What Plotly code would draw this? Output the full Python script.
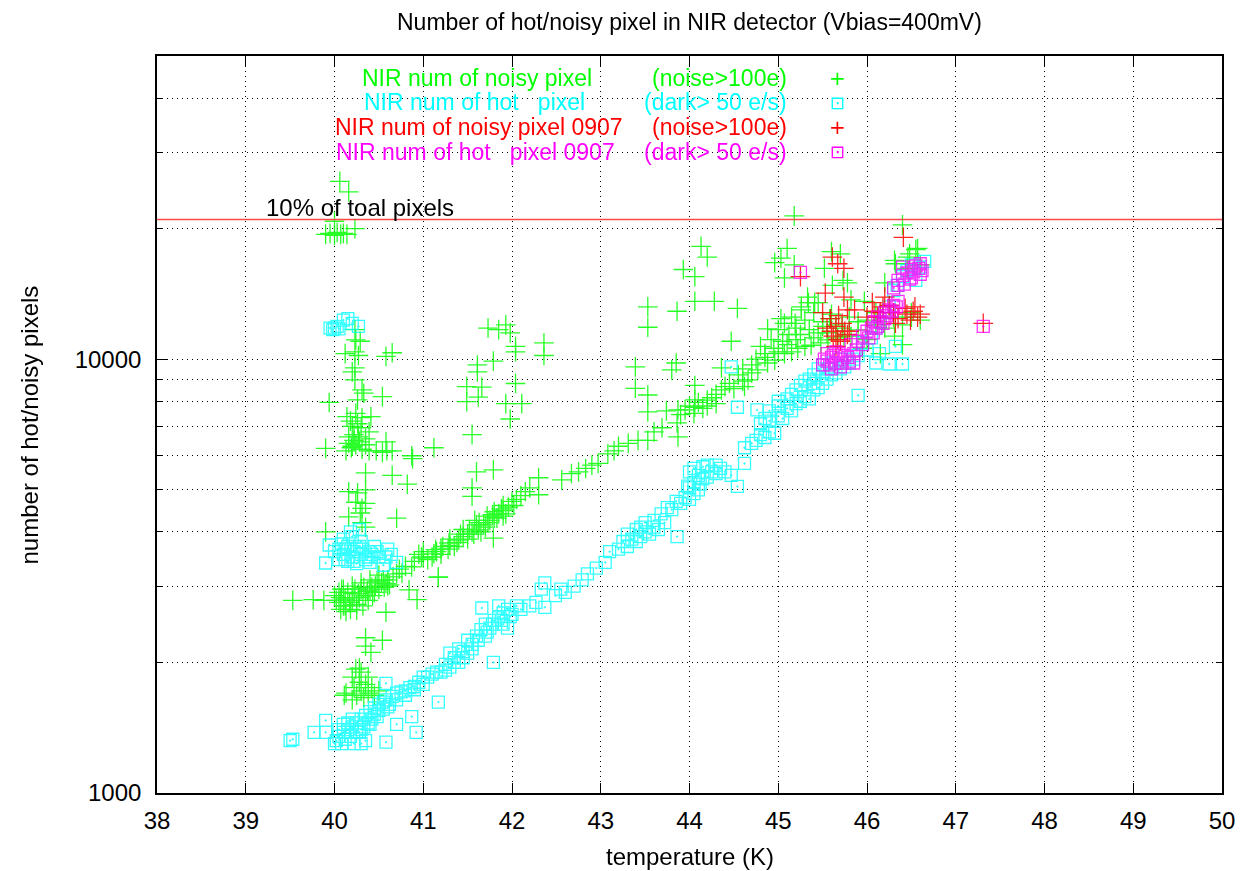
import plotly.graph_objects as go

# ---------------- data ----------------
noisy_T = [
    40.06, 40.16, 40.0, 39.9, 39.95, 40.0, 40.03, 40.07, 40.1, 40.14, 40.23,
    40.23, 40.24, 40.29, 40.12, 40.23, 40.27, 40.58, 40.65, 40.2, 40.23, 40.23, 40.31, 40.33, 40.54,
    39.94, 40.26, 40.14, 40.24, 40.31, 40.41, 40.2, 40.16, 40.27, 40.39,
    40.13, 40.19, 40.24, 40.31, 40.39, 40.47, 40.54, 40.59, 40.65, 40.16, 40.22, 40.28, 40.2, 40.35,
    40.58, 40.88, 39.9, 40.35, 40.65, 40.82, 40.16, 40.26, 40.35, 40.24, 40.35, 40.31, 40.16, 40.29,
    40.7, 40.31, 39.9, 40.35,
    40.22, 40.26, 40.3, 40.18, 40.35,
    41.55, 41.12, 40.87, 41.6, 41.79, 41.55, 41.55, 42.3, 42.3,
    40.0, 40.05, 40.08, 40.1, 40.12, 40.15, 40.18, 40.2, 40.22, 40.25, 40.28, 40.3, 40.32, 40.35,
    40.38, 40.4, 40.43, 40.46, 40.5, 40.53, 40.56, 40.6, 40.62, 40.66, 40.13, 40.25, 40.05, 40.2,
    40.3, 40.4, 40.5,
    40.02, 40.07, 40.1, 40.17, 40.23, 40.27, 40.33, 40.37, 40.42, 40.45, 40.48, 40.55, 40.6, 40.7,
    40.12, 40.07,
    39.53, 39.76, 39.88,
    40.58, 40.76, 40.87, 40.98, 41.14, 41.29, 40.84, 40.93, 41.17, 40.58,
    40.35, 40.41, 40.54, 40.35,
    40.13, 40.2, 40.22, 40.25, 40.28, 40.3, 40.33, 40.35, 40.38, 40.42, 40.45, 40.24, 40.3, 40.38,
    40.2, 40.5, 40.28, 40.11,
    40.73, 40.8, 40.9, 41.0, 41.1, 41.15, 41.2, 41.3, 41.4, 41.45, 41.5, 41.55, 41.62, 41.68, 41.75,
    41.8, 41.85, 41.9, 41.96, 42.05, 42.15, 42.56, 42.67, 42.75, 42.83, 42.9, 42.97, 43.08, 43.15,
    43.2, 43.31, 43.42, 43.53, 43.6, 43.69,
    41.35, 41.5, 41.6, 41.7, 41.72, 41.9, 41.2, 41.65, 41.45, 41.3, 41.58, 41.8, 41.9, 42.0, 41.0,
    40.95, 41.17, 41.79,
    41.05, 41.12, 41.22, 41.28, 41.38, 41.42, 41.52, 41.57, 41.63, 41.73, 41.78, 41.83, 41.88, 41.93,
    42.02, 42.1, 42.2,
    43.87, 43.95, 44.0, 44.06, 44.1, 44.15, 44.2, 44.25, 44.3, 44.36, 44.4, 44.5, 44.62, 44.66,
    44.77, 44.88, 44.96, 45.07, 45.15, 45.22, 45.3, 45.37, 45.48, 45.56, 45.67, 45.74, 45.82, 45.9,
    43.9, 44.05, 44.2, 44.3,
    44.45, 44.55, 44.6, 44.7, 44.75, 44.85, 45.0, 45.1, 45.2, 45.25, 45.35, 45.45, 45.5, 45.58,
    45.4, 44.7, 44.6,
    44.8, 44.92, 45.0, 45.07, 45.15, 45.26, 45.34, 44.85, 44.95, 45.05, 45.12, 45.2, 45.3, 45.4,
    45.45, 45.5, 45.55, 45.6, 45.65, 45.72, 45.8, 45.9, 46.0, 46.1, 46.2, 46.3, 46.4, 46.5,
    44.13, 44.2, 43.93, 44.06, 44.06, 44.28, 44.54, 43.53, 43.86, 43.53, 44.47,
    45.1, 45.03, 45.18, 44.96, 45.07, 45.18,
    45.6, 45.7, 45.52, 45.73, 45.61, 45.33, 45.41, 45.26, 44.88, 45.03, 45.19,
    43.39, 43.39, 43.53, 43.53, 43.74, 43.85, 43.8, 43.87, 43.86, 44.06, 44.06, 44.36,
    41.73, 41.85, 41.93, 41.98, 42.04, 42.04, 42.36, 42.36, 41.61, 41.61, 41.79, 41.49, 41.66,
    41.62, 41.49, 41.93, 42.11, 42.04, 41.98,
    46.4, 46.55, 46.48, 46.32, 45.82, 45.97, 46.31, 46.4, 46.57, 46.46, 46.31, 45.78,
    46.2, 46.45, 46.6, 46.1, 46.25, 46.5, 46.6, 46.0, 45.95, 46.15,
]
noisy_N = [
    25700, 24300, 20800, 19400, 19500, 19300, 19600, 19400, 19500, 19400, 20000,
    11700, 11080, 11000, 10300, 10400, 10200, 10150, 10350, 9350, 9550, 8960, 8500, 8350, 8200,
    7950, 8060, 7370, 7500, 7330, 7370, 7000, 6620, 6620, 6800,
    6150, 6250, 6350, 6200, 6150, 6150, 6100, 6150, 6150, 6400, 6500, 6450, 6300, 6350,
    6450, 5900, 6230, 5470, 5400, 5150, 4950, 4920, 5000, 4680, 4650, 4530, 4330, 4420,
    4300, 4200, 4000, 4100,
    6700, 7100, 6950, 7200, 6550,
    6700, 6250, 5990, 5500, 5560, 5050, 4830, 5330, 4870,
    2850, 2750, 2950, 2700, 2800, 2900, 2650, 2780, 2880, 2720, 2820, 2950, 2700, 2850,
    2780, 2920, 2850, 3000, 2950, 3050, 2980, 3100, 3020, 3150, 2620, 2640, 2900, 3000,
    3050, 3100, 3180,
    2780, 2820, 2950, 2750, 2950, 2880, 2980, 2920, 2980, 2900, 3080, 3100, 3000, 3200,
    2700, 2650,
    2780, 2790, 2780,
    3040, 3210, 3320, 3500, 3640, 3770, 2940, 2790, 3150, 2610,
    2280, 2110, 2250, 2180,
    1700, 1850, 1750, 1680, 1800, 1720, 1660, 1780, 1700, 1750, 1680, 1930, 1900, 1850,
    1640, 1720, 1940, 1680,
    3280, 3330, 3420, 3480, 3500, 3600, 3650, 3720, 3830, 3900, 3950, 4000, 4040, 4150, 4250,
    4320, 4400, 4480, 4560, 4750, 4950, 5270, 5450, 5500, 5600, 5700, 5750, 6050, 6150,
    6300, 6400, 6500, 6500, 6800, 6950,
    3700, 3850, 4150, 4100, 4350, 4350, 3550, 4000, 4050, 3850, 4250, 4450, 4600, 4700, 3600,
    3550, 3140, 3870,
    3450, 3560, 3700, 3650, 3780, 3950, 4050, 3950, 4200, 4200, 4380, 4300, 4520, 4400,
    4600, 4850, 5050,
    7640, 7640, 7800, 7750, 7950, 7700, 8050, 8150, 8300, 8500, 8650, 8550, 8650, 8960,
    9450, 9800, 9950, 10300, 10400, 10600, 10700, 10770, 10900, 11080, 11200, 11300, 11300, 11680,
    7450, 7500, 7800, 7900,
    8800, 9200, 9500, 9700, 10000, 10100, 10400, 10800, 11100, 11400, 11700, 11500, 11900, 12400,
    11200, 9300, 8900,
    10700, 11100, 11700, 12100, 12500, 13000, 13500, 10300, 10600, 11000, 11400, 11800, 12300, 12800,
    13500, 12200, 11500, 12700, 12000, 11800, 12500, 12200, 12300, 12000, 11800, 12500, 12000, 12500,
    18200, 17200, 16100, 15500, 13600, 13600, 13100, 13200, 12900, 11850, 11000,
    18000, 17100, 16500, 16700, 15400, 21400,
    17700, 17500, 16200, 15200, 14800, 13900, 13500, 13200, 11750, 12400, 12100,
    9600, 8570, 8270, 7560, 7600, 9800, 9450, 6620, 7130, 8700, 8060, 9550,
    11800, 11700, 12000, 11500, 10700, 10400, 10900, 10200, 9700, 9350, 9900, 8650, 8620,
    8180, 7980, 7900, 7900, 8790, 7280,
    20400, 17900, 17500, 16600, 13700, 13600, 11300, 10800, 18000, 17200, 16900, 15000,
    15000, 16200, 16500, 12800, 13300, 12800, 12300, 11100, 10600, 10300,
]

hot_T = [
    39.95, 40.0, 40.05, 40.1, 40.15, 40.2, 40.27, 39.98, 40.03,
    39.94, 39.9, 40.05, 40.1, 40.15, 40.2, 40.25, 40.3, 40.35, 40.1, 40.2, 40.3, 40.4, 40.45, 40.5,
    40.58, 40.64, 40.7, 40.05, 40.15, 40.25, 40.4, 40.55, 40.18, 40.28, 40.6,
    40.0, 40.08, 40.12, 40.22, 40.28, 40.32, 40.38, 40.42, 40.48, 40.12, 40.22,
    39.53, 39.5, 39.77, 39.9, 39.9, 40.0, 40.02, 40.05, 40.08, 40.1, 40.12, 40.15, 40.18, 40.2,
    40.22, 40.25, 40.28, 40.3, 40.33, 40.35, 40.38, 40.4, 40.42, 40.45, 40.48, 40.5, 40.55, 40.58,
    40.62, 40.65, 40.7, 40.75, 40.8, 40.85, 40.9, 40.95, 41.0, 41.05, 40.58, 41.17, 40.92, 40.87,
    40.7, 40.58, 40.3, 40.15, 40.35,
    40.05, 40.1, 40.2, 40.25, 40.3, 40.4, 40.45, 40.5, 40.55, 40.6, 40.7, 40.8, 40.9, 41.0,
    41.15, 41.25, 41.35, 41.45, 41.55, 41.62, 41.72, 41.78, 41.88, 41.98, 42.1, 42.2,
    41.1, 41.2, 41.25, 41.3, 41.35, 41.4, 41.45, 41.5, 41.55, 41.6, 41.65, 41.7, 41.75, 41.8,
    41.85, 41.9, 41.95, 42.0, 41.79, 41.66, 42.27, 42.33, 42.37, 42.37, 41.5, 41.7, 41.9, 42.05,
    41.4, 41.3, 41.85, 41.95,
    42.49, 42.55, 42.6, 42.7, 42.79, 42.85, 42.95, 43.05, 43.1, 43.2, 43.25, 43.3, 43.35, 43.4,
    43.45, 43.5, 43.55, 43.6, 43.65, 43.72, 43.5, 43.4, 43.86, 43.3, 43.45, 43.6,
    43.68, 43.75, 43.8, 43.85, 43.9, 43.95, 44.0, 44.05, 44.1, 44.0, 44.05, 44.1, 44.15, 44.2,
    44.25, 44.3, 44.35, 44.4, 44.47, 44.62, 44.54, 44.15, 44.3, 44.2, 44.0, 44.05, 43.98, 44.12,
    44.62, 44.7, 44.75, 44.8, 44.85, 44.9, 44.96,
    44.8, 44.9, 45.0, 45.05, 45.1, 45.15, 45.2, 45.25, 45.3, 45.35, 45.4, 45.45, 45.5, 45.55,
    45.6, 45.65, 45.7, 45.75, 45.8, 45.85, 45.9, 45.0, 45.1, 45.2, 45.3, 45.4, 45.45, 45.5,
    45.15, 45.25, 45.35, 45.5, 45.6, 45.7, 45.55, 45.4, 45.0, 44.9, 44.85,
    44.47, 44.54, 44.76, 45.9, 46.1, 46.25, 46.4, 46.32, 46.14, 46.0, 45.95,
    46.34, 46.4, 46.45, 46.5, 46.55, 46.6, 46.65, 46.3, 46.05, 46.1, 46.15, 46.2, 46.25,
]
hot_N = [
    11800, 11800, 11750, 12300, 12400, 12100, 11900, 11700, 11900,
    3730, 3390, 3650, 3550, 3700, 3500, 3650, 3550, 3450, 3850, 3900, 3800, 3600, 3700, 3500,
    3500, 3550, 3400, 3450, 3420, 3380, 3400, 3350, 4000, 4050, 3650,
    3600, 3750, 3650, 3600, 3700, 3650, 3500, 3550, 3600, 3450, 3420,
    1330, 1320, 1380, 1380, 1470, 1300, 1320, 1350, 1300, 1380, 1330, 1400, 1350, 1420,
    1300, 1450, 1380, 1480, 1420, 1510, 1450, 1540, 1480, 1570, 1500, 1600, 1560, 1640,
    1600, 1670, 1640, 1710, 1680, 1750, 1730, 1800, 1780, 1850, 1790, 1620, 1380, 1500,
    1440, 1310, 1300, 1450, 1320,
    1400, 1440, 1480, 1380, 1400, 1440, 1520, 1550, 1620, 1580, 1700, 1720, 1760, 1850,
    1900, 1920, 2000, 2050, 2150, 2250, 2350, 2450, 2500, 2550, 2650, 2700,
    1880, 1900, 1980, 1950, 2050, 2000, 2120, 2100, 2200, 2300, 2380, 2450, 2400, 2500,
    2550, 2600, 2650, 2580, 2000, 2670, 2750, 2950, 2680, 3050, 2250, 2300, 2450, 2700,
    2150, 2100, 2700, 2400,
    2850, 2950, 2900, 3000, 3100, 3200, 3300, 3400, 3600, 3650, 3800, 3700, 3850, 3800,
    3900, 4000, 3950, 4100, 4050, 4200, 4200, 4050, 3900, 3950, 4100, 4250,
    4400, 4550, 4500, 4700, 4650, 4800, 4750, 4900, 5000, 5050, 5200, 5400, 5300, 5350,
    5500, 5450, 5600, 5500, 5400, 5750, 5090, 5650, 5700, 5700, 5500, 5600, 5100, 5150,
    6250, 6400, 6500, 6700, 6600, 6800, 6750,
    7100, 7200, 7400, 7300, 7700, 7600, 7900, 8000, 8200, 8100, 8500, 8600, 8800, 9000,
    9200, 9300, 9500, 9600, 9800, 10000, 10200, 7800, 8100, 8500, 8900, 9200, 9500, 9700,
    8300, 8700, 9000, 9300, 9800, 10000, 9500, 8800, 8000, 7600, 7300,
    9600, 7750, 7640, 8250, 9800, 9750, 9750, 10700, 10300, 10500, 10900,
    14800, 15500, 16000, 16500, 15200, 16300, 16800, 14400, 11200, 11800, 12200, 12800, 13200,
]

noisy0907_T = [
    46.41, 45.61, 45.67, 45.74, 45.53, 45.74, 45.78, 45.59, 45.67, 45.78, 45.62, 45.7, 45.75,
    46.12, 46.2, 46.06, 45.86, 45.8, 46.32, 46.43, 46.54, 46.57, 46.49, 46.3, 46.25, 46.15,
    46.0, 47.31, 45.25, 45.5, 45.55, 45.65,
    45.6, 45.65, 45.72, 45.68, 46.35, 46.45, 46.52, 46.6, 46.18, 46.08,
]
noisy0907_N = [
    19100, 17200, 16600, 16200, 14200, 13900, 13000, 12400, 11100, 11400, 11300, 11000, 11600,
    12500, 13900, 13500, 13000, 11600, 12100, 13100, 13200, 12500, 12300, 12800, 13300, 12800,
    12500, 12100, 15500, 12800, 11800, 10700,
    11600, 11900, 12100, 12600, 12400, 12700, 12900, 12700, 13200, 12900,
]

hot0907_T = [
    45.25, 47.31, 45.5, 45.55, 45.6, 45.65, 45.7, 45.75, 45.8, 45.85, 45.55, 45.65, 45.7, 45.6,
    45.82, 45.9, 45.95, 46.0, 46.05, 46.08, 46.12, 46.15, 46.2, 46.25, 46.3, 46.35, 46.1, 46.2,
    46.3, 46.35, 46.4, 46.45, 46.5, 46.55, 46.6, 46.4, 46.5, 46.6, 46.35,
    45.52, 45.58, 45.62, 45.68, 45.72, 45.78, 45.85, 45.88, 45.95, 46.02, 46.07, 46.12, 46.18,
    46.22, 46.28, 46.33, 46.42, 46.48, 46.52, 46.58, 46.62,
]
hot0907_N = [
    15850, 11900, 9700, 9900, 10100, 9800, 10000, 10200, 9900, 10300, 10300, 10400, 9600, 9500,
    10800, 11000, 11300, 11600, 11800, 12200, 12500, 12200, 12800, 13000, 13300, 13600, 11800, 12400,
    14600, 15200, 15600, 15800, 16100, 16400, 16600, 16300, 15400, 15700, 14800,
    10000, 9700, 10200, 10300, 9800, 10100, 9800, 10500, 10800, 11200, 11500, 11900, 12100,
    12600, 12900, 13200, 14900, 15300, 15900, 16200, 16000,
]

ten_percent_level = 21000
x_limits = [38, 50]
y_limits = [1000, 50000]
x_ticks = list(range(38, 51))
y_ticks = [1000, 10000]

legend_rows = [
    ("NIR num of noisy pixel", "(noise>100e)", "#00ff00", "+"),
    ("NIR num of hot\u00a0\u00a0\u00a0pixel", "(dark>\u00a050\u00a0e/s)", "#00ffff", "\u22a1"),
    ("NIR num of noisy pixel 0907", "(noise>100e)", "#ff0000", "+"),
    ("NIR num of hot\u00a0\u00a0\u00a0pixel 0907", "(dark>\u00a050\u00a0e/s)", "#ff00ff", "\u22a1"),
]

# ---------------- figure ----------------
# the page body has an 8px margin, so the figure is made 8px smaller and the
# margins are reduced so the plot box lands on x 157..1226, y 56..793 of the page
OFF = 8
W, H = 1247 - OFF, 871 - OFF
L, R, T, B = 157 - OFF, 21, 56 - OFF, 78
PW, PH = W - L - R, H - T - B
FONT = "Liberation Sans, Arial, Helvetica, sans-serif"


def px(xp):  # page pixel -> paper x
    return (xp - OFF - L) / PW


def py(yp):  # page pixel -> paper y
    return 1 - (yp - OFF - T) / PH


fig = go.Figure()


def cross_trace(xs, ys, color):
    return go.Scatter(x=xs, y=ys, mode="markers", showlegend=False, opacity=0.85,
                      marker=dict(symbol="cross-thin", size=14,
                                  line=dict(width=1.3, color=color)))


def square_trace(xs, ys, color):
    return go.Scatter(x=xs, y=ys, mode="markers", showlegend=False, opacity=0.8,
                      marker=dict(symbol="square-open-dot", size=12, color=color,
                                  line=dict(width=1.3, color=color)))


fig.add_trace(cross_trace(noisy_T, noisy_N, "#00ff00"))
fig.add_trace(square_trace(hot_T, hot_N, "#00ffff"))
fig.add_trace(cross_trace(noisy0907_T, noisy0907_N, "#ff0000"))
fig.add_trace(square_trace(hot0907_T, hot0907_N, "#ff00ff"))

# 10 % line
fig.add_trace(go.Scatter(x=x_limits, y=[ten_percent_level, ten_percent_level], mode="lines",
                         showlegend=False, hoverinfo="skip",
                         line=dict(color="#ff4848", width=1.6)))

# opaque key box (covers the grid, under the data)
fig.add_shape(type="rect", xref="paper", yref="paper", x0=px(172), x1=px(886),
              y0=py(164), y1=1.0, fillcolor="white", line=dict(width=0), layer="between")

annotations = []
row_y = [78, 102, 127, 152]
left_x = [361, 363, 334, 335]
LEG_SIZE = 23
for (left, right, color, sym), ry, lx in zip(legend_rows, row_y, left_x):
    annotations.append(dict(text=left, x=px(lx), y=py(ry), xref="paper", yref="paper",
                            xanchor="left", yanchor="middle", showarrow=False,
                            font=dict(family=FONT, size=LEG_SIZE, color=color)))
    annotations.append(dict(text=right, x=px(791), y=py(ry), xref="paper", yref="paper",
                            xanchor="right", yanchor="middle", showarrow=False,
                            font=dict(family=FONT, size=LEG_SIZE, color=color)))
    annotations.append(dict(text=sym, x=px(840), y=py(ry), xref="paper", yref="paper",
                            xanchor="center", yanchor="middle", showarrow=False,
                            font=dict(family="DejaVu Sans", size=20 if sym == "+" else 18,
                                      color=color)))

annotations.append(dict(text="10% of toal pixels", x=px(264), y=py(208), xref="paper",
                        yref="paper", xanchor="left", yanchor="middle", showarrow=False,
                        font=dict(family=FONT, size=24, color="black")))
annotations.append(dict(text="Number of hot/noisy pixel in NIR detector (Vbias=400mV)",
                        x=px(692), y=py(22), xref="paper", yref="paper", xanchor="center",
                        yanchor="middle", showarrow=False,
                        font=dict(family=FONT, size=23, color="black")))
annotations.append(dict(text="temperature (K)", x=px(692), y=py(856), xref="paper",
                        yref="paper", xanchor="center", yanchor="middle", showarrow=False,
                        font=dict(family=FONT, size=24, color="black")))
annotations.append(dict(text="number of hot/noisy pixels", x=px(29), y=py(425), xref="paper",
                        yref="paper", xanchor="center", yanchor="middle", showarrow=False,
                        textangle=-90, font=dict(family=FONT, size=24, color="black")))

grid_dash = "1px,4px"
fig.update_layout(
    width=W, height=H,
    margin=dict(l=L, r=R, t=T, b=B, pad=0),
    paper_bgcolor="white", plot_bgcolor="white",
    font=dict(family=FONT, size=24, color="black"),
    annotations=annotations,
    showlegend=False,
    xaxis=dict(range=x_limits, tickvals=x_ticks, ticks="inside", ticklen=10, tickwidth=1.2,
               tickcolor="black", mirror="allticks", showline=True, linecolor="black",
               linewidth=1.6, showgrid=True, gridcolor="black", gridwidth=1,
               griddash=grid_dash, zeroline=False, ticklabelstandoff=5,
               tickfont=dict(family=FONT, size=24)),
    yaxis=dict(type="log", range=[3, 4.69897], tickvals=y_ticks,
               ticktext=[str(v) for v in y_ticks], ticks="inside", ticklen=10, tickwidth=1.2,
               tickcolor="black", mirror="allticks", showline=True, linecolor="black",
               linewidth=1.6, showgrid=True, gridcolor="black", gridwidth=1,
               griddash=grid_dash, zeroline=False, ticklabelstandoff=9,
               tickfont=dict(family=FONT, size=24),
               minor=dict(dtick="D1", ticks="inside", ticklen=6, tickwidth=1,
                          tickcolor="black", showgrid=True, gridcolor="black",
                          gridwidth=1, griddash=grid_dash)),
)

fig.write_html("out.html")
